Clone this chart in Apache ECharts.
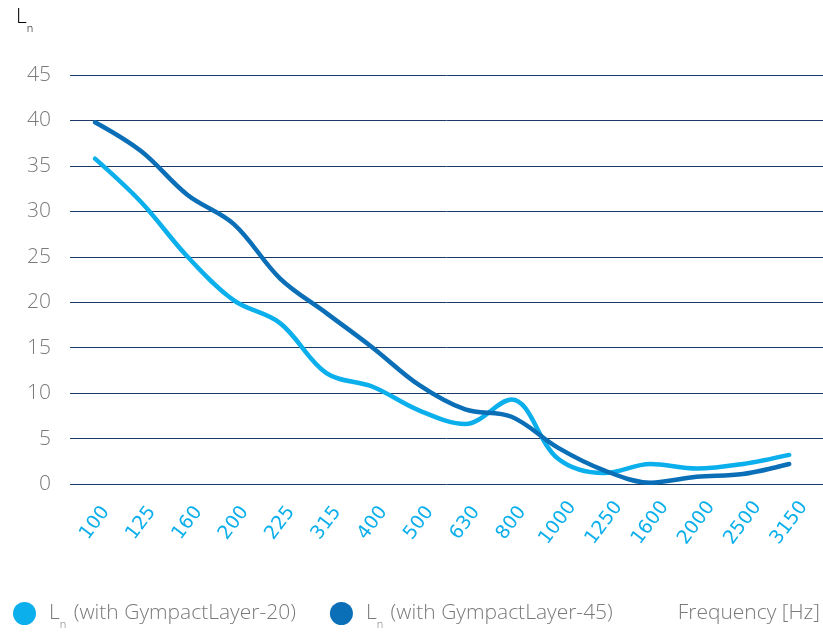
<!DOCTYPE html>
<html>
<head>
<meta charset="utf-8">
<script src="https://cdn.jsdelivr.net/npm/echarts@6/dist/echarts.min.js"></script>
<style>
  html, body { margin: 0; padding: 0; background: #fff; }
  #chart { width: 823px; height: 633px; }
</style>
</head>
<body>
<div id="chart"></div>
<script>
const categories = ['100', '125', '160', '200', '225', '315', '400', '500', '630', '800', '1000', '1250', '1600', '2000', '2500', '3150'];
const layer20 = [35.8, 31, 25, 20.2, 17.7, 12.2, 10.7, 8.1, 6.6, 9.3, 2.8, 1.2, 2.2, 1.7, 2.2, 3.2];
const layer45 = [39.8, 36.6, 31.8, 28.6, 22.6, 18.8, 15, 10.9, 8.2, 7.4, 4, 1.5, 0.15, 0.8, 1.1, 2.2];
const yTicks = [0, 5, 10, 15, 20, 25, 30, 35, 40, 45];

const colorLight = '#0bafeb';
const colorDark = '#0a6fb7';
const textGray = '#7a7a7a';
const gridNavy = '#1d3a66';
const fontFamily = '"Open Sans", Lato, sans-serif';

const subRich = {
  g: { width: 8 },
  a: { fontSize: 21, fontWeight: 300, color: textGray, fontFamily: fontFamily, verticalAlign: 'bottom' },
  s: { fontSize: 11, fontWeight: 300, color: textGray, fontFamily: fontFamily, verticalAlign: 'bottom', padding: [0, 2, -6, 0] },
};

const chart = echarts.init(document.getElementById('chart'), null, { renderer: 'canvas' });

function toPoints(values) {
  return values.map((v, i) => [i, v]);
}

const commonLineOptions = {
  type: 'line',
  smooth: 0.35,
  symbol: 'none',
  lineStyle: { width: 4.5, cap: 'round' },
};

chart.setOption({
  backgroundColor: '#fff',
  animation: false,
  grid: { left: 70, right: 0, top: 75, bottom: 149 },
  xAxis: {
    type: 'value',
    min: -0.54,
    max: 15.73,
    axisLine: { show: false },
    axisTick: { show: false },
    splitLine: { show: false },
    axisLabel: {
      customValues: categories.map((c, i) => i),
      formatter: v => categories[Math.round(v)],
      rotate: 53,
      align: 'center',
      verticalAlign: 'middle',
      margin: 39,
      color: colorLight,
      fontSize: 19,
      fontFamily: '"DejaVu Sans", sans-serif',
    },
  },
  yAxis: {
    type: 'value',
    min: 0,
    max: 45,
    interval: 5,
    axisLine: { show: false },
    axisTick: { show: false },
    axisLabel: {
      customValues: yTicks,
      margin: 19,
      color: textGray,
      fontSize: 21,
      fontWeight: 300,
      fontFamily: fontFamily,
    },
    splitLine: { lineStyle: { color: gridNavy, width: 1 } },
  },
  legend: {
    left: 8,
    top: 597,
    icon: 'circle',
    itemWidth: 23,
    itemHeight: 23,
    itemGap: 34,
    formatter: name => '{g|}{a|L}{s|n}{a|' + name.slice(2) + '}',
    textStyle: { rich: subRich },
    data: ['Ln (with GympactLayer-20)', 'Ln (with GympactLayer-45)'],
  },
  graphic: [
    {
      type: 'text',
      left: 16,
      top: 7,
      style: { text: '{a|L}{s|n}', rich: subRich },
    },
    {
      type: 'text',
      right: 3,
      top: 603,
      style: { text: 'Frequency [Hz]', fill: textGray, fontSize: 21, fontWeight: 300, fontFamily: fontFamily },
    },
  ],
  series: [
    {
      name: 'Ln (with GympactLayer-20)',
      data: toPoints(layer20),
      itemStyle: { color: colorLight },
      z: 3,
      ...commonLineOptions,
    },
    {
      name: 'Ln (with GympactLayer-45)',
      data: toPoints(layer45),
      itemStyle: { color: colorDark },
      z: 4,
      ...commonLineOptions,
    },
  ],
});
</script>
</body>
</html>
